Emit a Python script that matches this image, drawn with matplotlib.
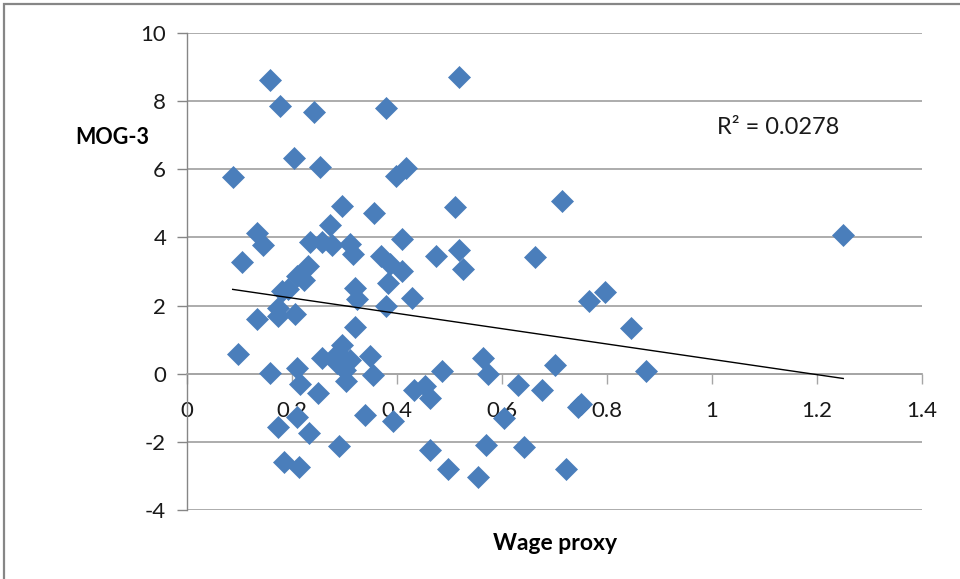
import matplotlib.pyplot as plt
import numpy as np
from matplotlib.patches import Rectangle

# data
wage_proxy = [0.087, 0.098, 0.104, 0.133, 0.144, 0.133, 0.158, 0.159, 0.177, 0.174,
              0.174, 0.174, 0.185, 0.180, 0.193, 0.204, 0.206, 0.209, 0.222, 0.231,
              0.209, 0.215, 0.209, 0.213, 0.233, 0.234, 0.241, 0.250, 0.253, 0.257,
              0.258, 0.272, 0.276, 0.288, 0.285, 0.290, 0.295, 0.296, 0.301, 0.303,
              0.310, 0.310, 0.317, 0.320, 0.323, 0.320, 0.339, 0.349, 0.355, 0.357,
              0.369, 0.379, 0.383, 0.387, 0.379, 0.393, 0.398, 0.409, 0.409, 0.418,
              0.428, 0.432, 0.453, 0.463, 0.462, 0.474, 0.485, 0.498, 0.511, 0.519,
              0.519, 0.525, 0.555, 0.564, 0.570, 0.574, 0.603, 0.631, 0.642, 0.663,
              0.676, 0.701, 0.714, 0.721, 0.745, 0.751, 0.766, 0.796, 0.845, 0.874,
              1.250]
mog3 = [5.76, 0.59, 3.27, 4.14, 3.78, 1.60, 0.03, 8.63, 7.86, 1.93,
        1.69, -1.55, -2.58, 2.42, 2.50, 6.33, 1.74, 2.86, 2.76, 3.16,
        0.17, -0.30, -1.27, -2.73, -1.75, 3.87, 7.69, -0.56, 6.06, 0.46,
        3.87, 4.35, 3.77, 0.61, 0.31, -2.11, 0.85, 4.93, 0.12, -0.20,
        0.41, 3.80, 3.50, 2.52, 2.18, 1.38, -1.21, 0.51, -0.05, 4.71,
        3.46, 7.79, 2.67, 3.21, 2.00, -1.40, 5.80, 3.01, 3.95, 6.05,
        2.22, -0.47, -0.37, -0.72, -2.24, 3.46, 0.07, -2.80, 4.89, 8.70,
        3.62, 3.07, -3.02, 0.47, -2.09, 0.00, -1.30, -0.32, -2.16, 3.43,
        -0.47, 0.26, 5.07, -2.80, -0.98, -0.90, 2.13, 2.40, 1.34, 0.07,
        4.06]

x_ticks = [0, 0.2, 0.4, 0.6, 0.8, 1.0, 1.2, 1.4]
x_tick_labels = ['0', '0.2', '0.4', '0.6', '0.8', '1', '1.2', '1.4']
y_ticks = [-4, -2, 0, 2, 4, 6, 8, 10]
y_tick_labels = ['-4', '-2', '0', '2', '4', '6', '8', '10']
r2_text = 'R² = 0.0278'

plt.rcParams['font.family'] = ['Lato', 'DejaVu Sans']

fig = plt.figure(figsize=(9.6, 5.79), dpi=100)
ax = fig.add_axes([0.1948, 0.1192, 0.7656, 0.8238])

x = np.array(wage_proxy)
y = np.array(mog3)

# gridlines first, then points on top
ax.set_axisbelow(True)
ax.grid(axis='y', color='#a6a6a6', linewidth=1.3)

ax.plot(x, y, linestyle='none', marker='D', markersize=11.3,
        color='#4a7ebb', markeredgecolor='#4a7ebb', markeredgewidth=0.5, zorder=3)

# linear trend line (least squares)
k, q = np.polyfit(x, y, 1)
xs = np.array([x.min(), x.max()])
ax.plot(xs, k * xs + q, color='black', linewidth=1.0, zorder=4)

ax.text(1.126, 7.24, r2_text, fontsize=17, ha='center', va='center', color='#1a1a1a')

ax.set_xlim(0, 1.4)
ax.set_ylim(-4, 10)
ax.set_xticks(x_ticks, x_tick_labels)
ax.set_yticks(y_ticks, y_tick_labels)

# axes like in Excel
ax.spines['top'].set_visible(False)
ax.spines['right'].set_visible(False)
ax.spines['bottom'].set_position(('data', 0))
ax.spines['bottom'].set_color('#a6a6a6')
ax.spines['bottom'].set_linewidth(1.3)
ax.spines['left'].set_color('#868686')
ax.spines['left'].set_linewidth(1.0)

ax.tick_params(axis='x', direction='out', length=7, width=1.0, color='#a6a6a6',
               pad=13, labelsize=16, labelcolor='#1a1a1a')
ax.tick_params(axis='y', direction='out', length=7, width=1.0, color='#868686',
               pad=8, labelsize=16, labelcolor='#1a1a1a')

ax.set_xlabel('Wage proxy', fontsize=16.5, fontweight='bold')
ax.xaxis.set_label_coords(0.5007, -0.048)
ax.set_ylabel('MOG-3', fontsize=15.5, fontweight='bold', rotation=0, ha='center', va='center')
ax.yaxis.set_label_coords(-0.102, 0.78)

# outer chart border (only left and top visible in the crop)
fig.patches.append(Rectangle((0.0045, -0.05), 1.2, 1.0435, transform=fig.transFigure,
                             fill=False, edgecolor='#868686', linewidth=1.6))

fig.savefig('out.png', dpi=100)
